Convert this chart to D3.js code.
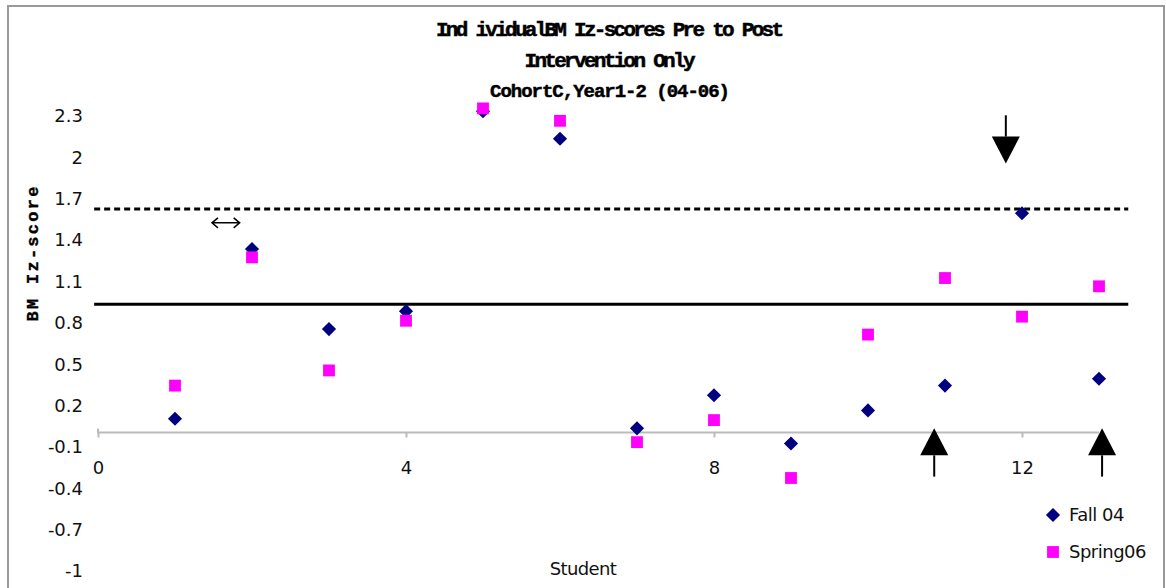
<!DOCTYPE html>
<html>
<head>
<meta charset="utf-8">
<script src="https://cdn.jsdelivr.net/npm/d3@7"></script>
<style>
  html, body { margin: 0; padding: 0; background: #fff; }
  svg { display: block; }
</style>
</head>
<body>
<svg id="chart" width="1166" height="588"></svg>
<script>
// Students 1..13 with z-scores at the two time points
const students = [1, 2, 3, 4, 5, 6, 7, 8, 9, 10, 11, 12, 13];
const fall04   = [0.10, 1.33, 0.75, 0.88, 2.33, 2.13, 0.03, 0.27, -0.08, 0.16, 0.34, 1.59, 0.39];
const spring06 = [0.34, 1.27, 0.45, 0.81, 2.35, 2.26, -0.07, 0.09, -0.33, 0.71, 1.12, 0.84, 1.06];

const yTicks = [-1, -0.7, -0.4, -0.1, 0.2, 0.5, 0.8, 1.1, 1.4, 1.7, 2, 2.3];
const yTickLabels = ["-1", "-0.7", "-0.4", "-0.1", "0.2", "0.5", "0.8", "1.1", "1.4", "1.7", "2", "2.3"];
const xTicks = [0, 4, 8, 12];

const titleLines = ["Ind ividualBM Iz-scores Pre to Post", "Intervention Only", "CohortC,Year1-2 (04-06)"];
const seriesNames = ["Fall 04", "Spring06"];

// Reference levels (dashed upper cut-off, solid lower cut-off)
const dashedLevel = 1.62;
const solidLevel = 0.93;
const refLineSpan = [-0.05, 13.38];

// Arrow annotations in data units
const downArrows = [{ x: 11.79, from: 2.30, to: 1.95 }];
const upArrows = [{ x: 10.86, from: -0.32, to: 0.03 }, { x: 13.04, from: -0.32, to: 0.03 }];
const doubleArrows = [{ x1: 1.48, x2: 1.84, y: 1.52 }];

const svg = d3.select("#chart");

const x = d3.scaleLinear().domain([0, 13]).range([98, 1099]);
const y = d3.scaleLinear().domain([-1, 2.3]).range([570.4, 115.3]);

// Outer chart frame
svg.append("rect")
  .attr("x", 8).attr("y", 6).attr("width", 1156).attr("height", 620)
  .attr("fill", "none").attr("stroke", "#999").attr("stroke-width", 2);

// Title
const titleFont = "'Liberation Mono', 'DejaVu Sans Mono', monospace";
const titleWidths = [348, 171, 240];
const titleY = [36, 67, 97];
titleLines.forEach((t, i) => {
  svg.append("text")
    .attr("x", 610).attr("y", titleY[i])
    .attr("text-anchor", "middle")
    .attr("font-family", titleFont)
    .attr("font-weight", "bold")
    .attr("font-size", i === 2 ? 19 : 21)
    .attr("stroke", "#000")
    .attr("stroke-width", 0.5)
    .attr("textLength", titleWidths[i])
    .attr("lengthAdjust", "spacing")
    .text(t);
});

// Y axis title
svg.append("text")
  .attr("transform", `translate(38, ${254}) rotate(-90)`)
  .attr("text-anchor", "middle")
  .attr("font-family", titleFont)
  .attr("font-weight", "bold")
  .attr("font-size", 17)
  .attr("stroke", "#000")
  .attr("stroke-width", 0.4)
  .attr("textLength", 135)
  .attr("lengthAdjust", "spacing")
  .text("BM Iz-score");

// Y tick labels (no axis line)
const yAxis = d3.axisLeft(y).tickValues(yTicks).tickSize(0).tickPadding(0)
  .tickFormat((d, i) => yTickLabels[i]);
const gy = svg.append("g").attr("transform", "translate(83,0)").call(yAxis);
gy.select(".domain").remove();
gy.selectAll("text")
  .attr("font-family", "'DejaVu Sans', sans-serif")
  .attr("font-size", 18)
  .attr("fill", "#111")
  .attr("dy", "0.36em");

// X axis at y = 0
const xAxis = d3.axisBottom(x).tickValues(xTicks).tickSize(5).tickPadding(24).tickFormat(d3.format("d"));
const gx = svg.append("g").attr("transform", `translate(0,${y(0)})`).call(xAxis);
gx.select(".domain").attr("stroke", "#bbb").attr("stroke-width", 2).attr("d", `M${x(0)},-4V0H${x(13)}`);
gx.selectAll(".tick line").attr("stroke", "#bbb").attr("stroke-width", 2);
gx.selectAll(".tick text")
  .attr("font-family", "'DejaVu Sans', sans-serif")
  .attr("font-size", 18)
  .attr("fill", "#111");

// X axis title
svg.append("text")
  .attr("x", 583).attr("y", 575)
  .attr("text-anchor", "middle")
  .attr("font-family", "'DejaVu Sans', sans-serif")
  .attr("font-size", 18)
  .attr("letter-spacing", "-0.6")
  .attr("fill", "#111")
  .text("Student");

// Reference lines
svg.append("line")
  .attr("x1", x(refLineSpan[0])).attr("x2", x(refLineSpan[1]))
  .attr("y1", y(dashedLevel)).attr("y2", y(dashedLevel))
  .attr("stroke", "#000").attr("stroke-width", 3)
  .attr("stroke-dasharray", "6,4");
svg.append("line")
  .attr("x1", x(refLineSpan[0])).attr("x2", x(refLineSpan[1]))
  .attr("y1", y(solidLevel)).attr("y2", y(solidLevel))
  .attr("stroke", "#000").attr("stroke-width", 3);

// Markers
const diamond = d3.symbol().type(d3.symbolSquare).size(100);
const square = d3.symbol().type(d3.symbolSquare).size(140);
const navy = "#000080";
const magenta = "#ff00ff";

svg.append("g").selectAll("path")
  .data(students.map((s, i) => ({ s, v: fall04[i] })))
  .join("path")
  .attr("d", diamond)
  .attr("transform", d => `translate(${x(d.s)},${y(d.v)}) rotate(45)`)
  .attr("fill", navy);

svg.append("g").selectAll("path")
  .data(students.map((s, i) => ({ s, v: spring06[i] })))
  .join("path")
  .attr("d", square)
  .attr("transform", d => `translate(${x(d.s)},${y(d.v)})`)
  .attr("fill", magenta);

// Arrows
function arrow(xv, fromV, toV) {
  const xp = x(xv), y0 = y(fromV), y1 = y(toV);
  const dir = Math.sign(y1 - y0);
  const headLen = 27, headHalf = 14;
  const baseY = y1 - dir * headLen;
  svg.append("line")
    .attr("x1", xp).attr("x2", xp).attr("y1", y0).attr("y2", baseY)
    .attr("stroke", "#000").attr("stroke-width", 2);
  svg.append("path")
    .attr("d", `M${xp},${y1}L${xp - headHalf},${baseY}L${xp + headHalf},${baseY}Z`)
    .attr("fill", "#000");
}
downArrows.forEach(a => arrow(a.x, a.from, a.to));
upArrows.forEach(a => arrow(a.x, a.from, a.to));

doubleArrows.forEach(a => {
  const x1 = x(a.x1), x2 = x(a.x2), yp = y(a.y);
  svg.append("path")
    .attr("d", `M${x1},${yp}H${x2}M${x1 + 6},${yp - 5}L${x1},${yp}L${x1 + 6},${yp + 5}M${x2 - 6},${yp - 5}L${x2},${yp}L${x2 - 6},${yp + 5}`)
    .attr("fill", "none").attr("stroke", "#000").attr("stroke-width", 1.5);
});

// Legend
const legend = svg.append("g");
const legendItems = [
  { name: seriesNames[0], sym: diamond, rot: 45, color: navy, yPos: 515 },
  { name: seriesNames[1], sym: square, rot: 0, color: magenta, yPos: 552 }
];
legendItems.forEach(it => {
  legend.append("path")
    .attr("d", it.sym)
    .attr("transform", `translate(1053,${it.yPos}) rotate(${it.rot})`)
    .attr("fill", it.color);
  legend.append("text")
    .attr("x", 1069).attr("y", it.yPos)
    .attr("dy", "0.36em")
    .attr("font-family", "'DejaVu Sans', sans-serif")
    .attr("font-size", 18)
    .attr("letter-spacing", "-0.5")
    .attr("fill", "#111")
    .text(it.name);
});
</script>
</body>
</html>
